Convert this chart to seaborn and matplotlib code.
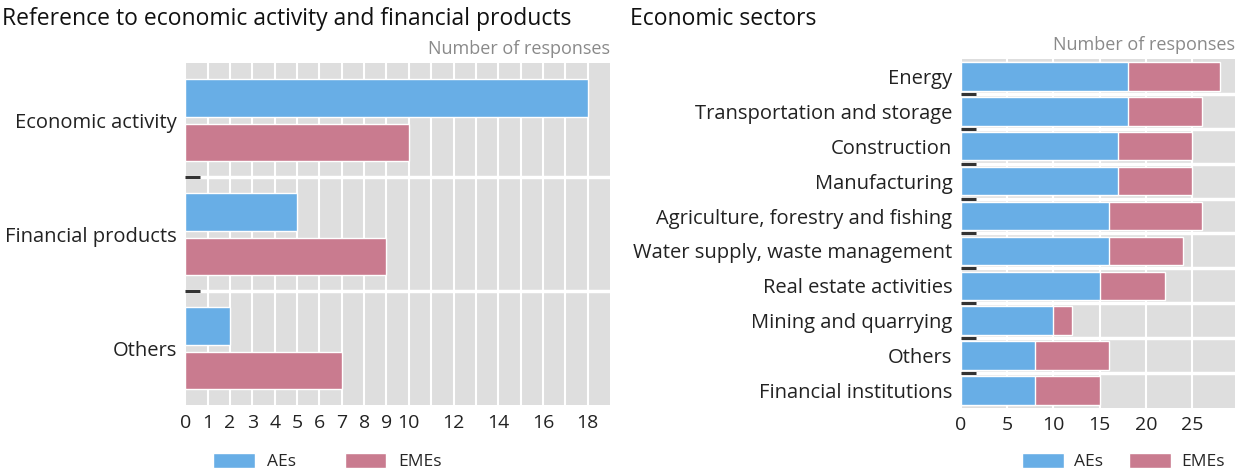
import pandas as pd
import matplotlib.pyplot as plt
import seaborn as sns
from matplotlib.patches import Patch

# Data
ref_categories = ["Economic activity", "Financial products", "Others"]
ref_aes = [18, 5, 2]
ref_emes = [10, 9, 7]

sector_categories = [
    "Energy",
    "Transportation and storage",
    "Construction",
    "Manufacturing",
    "Agriculture, forestry and fishing",
    "Water supply, waste management",
    "Real estate activities",
    "Mining and quarrying",
    "Others",
    "Financial institutions",
]
sector_aes = [18, 18, 17, 17, 16, 16, 15, 10, 8, 8]
sector_emes = [10, 8, 8, 8, 10, 8, 7, 2, 8, 7]

left_ticks = list(range(0, 19))
left_ticklabels = [str(t) if (t <= 10 or t % 2 == 0) else "" for t in left_ticks]

BLUE = "#68aee6"
PINK = "#c97b8f"
BG = "#dedede"

sns.set_style("white")
plt.rcParams["font.family"] = ["Open Sans", "DejaVu Sans"]

fig = plt.figure(figsize=(12.35, 4.75), dpi=100)
ax1 = fig.add_axes([0.150, 0.147, 0.344, 0.720])
ax2 = fig.add_axes([0.778, 0.141, 0.222, 0.735])

# -------------------------------
# LEFT: grouped bars
# -------------------------------
ref_df = pd.DataFrame({
    "category": ref_categories * 2,
    "value": ref_aes + ref_emes,
    "group": ["AEs"] * len(ref_categories) + ["EMEs"] * len(ref_categories),
})
sns.barplot(data=ref_df, y="category", x="value", hue="group", orient="h",
            palette=[BLUE, PINK], width=0.78, gap=0.16, legend=False,
            saturation=1, ax=ax1, zorder=3)
ax1.set_xlim(0, 19)
ax1.set_xticks(left_ticks)
ax1.set_xticklabels(left_ticklabels)

# -------------------------------
# RIGHT: stacked bars
# -------------------------------
sec_df = pd.DataFrame({
    "sector": sector_categories,
    "AEs": sector_aes,
    "EMEs": sector_emes,
})
sec_df["total"] = sec_df["AEs"] + sec_df["EMEs"]
sns.barplot(data=sec_df, y="sector", x="total", orient="h", color=PINK,
            saturation=1, width=0.82, ax=ax2, zorder=3)
sns.barplot(data=sec_df, y="sector", x="AEs", orient="h", color=BLUE,
            saturation=1, width=0.82, ax=ax2, zorder=4)
ax2.set_xlim(0, 29.6)
ax2.set_xticks([0, 5, 10, 15, 20, 25])

# Common styling
for ax, n in [(ax1, len(ref_categories)), (ax2, len(sector_categories))]:
    ax.set_facecolor(BG)
    for s in ax.spines.values():
        s.set_visible(False)
    ax.set_xlabel("")
    ax.set_ylabel("")
    ax.set_yticks([i + 0.5 for i in range(n - 1)], minor=True)
    ax.grid(axis="x", which="major", color="white", linewidth=1.5, zorder=1)
    ax.grid(axis="y", which="minor", color="white", linewidth=2.5, zorder=1)
    ax.set_axisbelow(True)
    ax.tick_params(axis="y", which="both", left=True)
    ax.tick_params(axis="y", which="major", length=0, pad=6, labelsize=14.5,
                   labelcolor="#222222")
    ax.tick_params(axis="y", which="minor", direction="in", length=11, width=2.2,
                   color="#333333")
    ax.tick_params(axis="x", length=0, pad=6, labelsize=14, labelcolor="#222222")
    ax.text(1.0, 1.015, "Number of responses", transform=ax.transAxes,
            ha="right", va="bottom", fontsize=13, color="#8a8a8a")

ax1.set_ylim(len(ref_categories) - 0.5, -0.5)
ax2.set_ylim(len(sector_categories) - 0.5, -0.5)

fig.text(0.002, 0.985, "Reference to economic activity and financial products",
         ha="left", va="top", fontsize=16.5, color="#111111")
fig.text(0.510, 0.985, "Economic sectors",
         ha="left", va="top", fontsize=16.5, color="#111111")

handles = [Patch(facecolor=BLUE, label="AEs"), Patch(facecolor=PINK, label="EMEs")]
fig.legend(handles=handles, loc="center left", bbox_to_anchor=(0.160, 0.028), ncol=2,
           frameon=False, fontsize=12.5, handlelength=2.4, handleheight=0.9,
           columnspacing=2.8, handletextpad=0.7)
fig.legend(handles=handles, loc="center right", bbox_to_anchor=(1.0, 0.028), ncol=2,
           frameon=False, fontsize=12.5, handlelength=2.4, handleheight=0.9,
           columnspacing=1.5, handletextpad=0.6, borderaxespad=0.2)

fig.savefig("out.png", dpi=100)
